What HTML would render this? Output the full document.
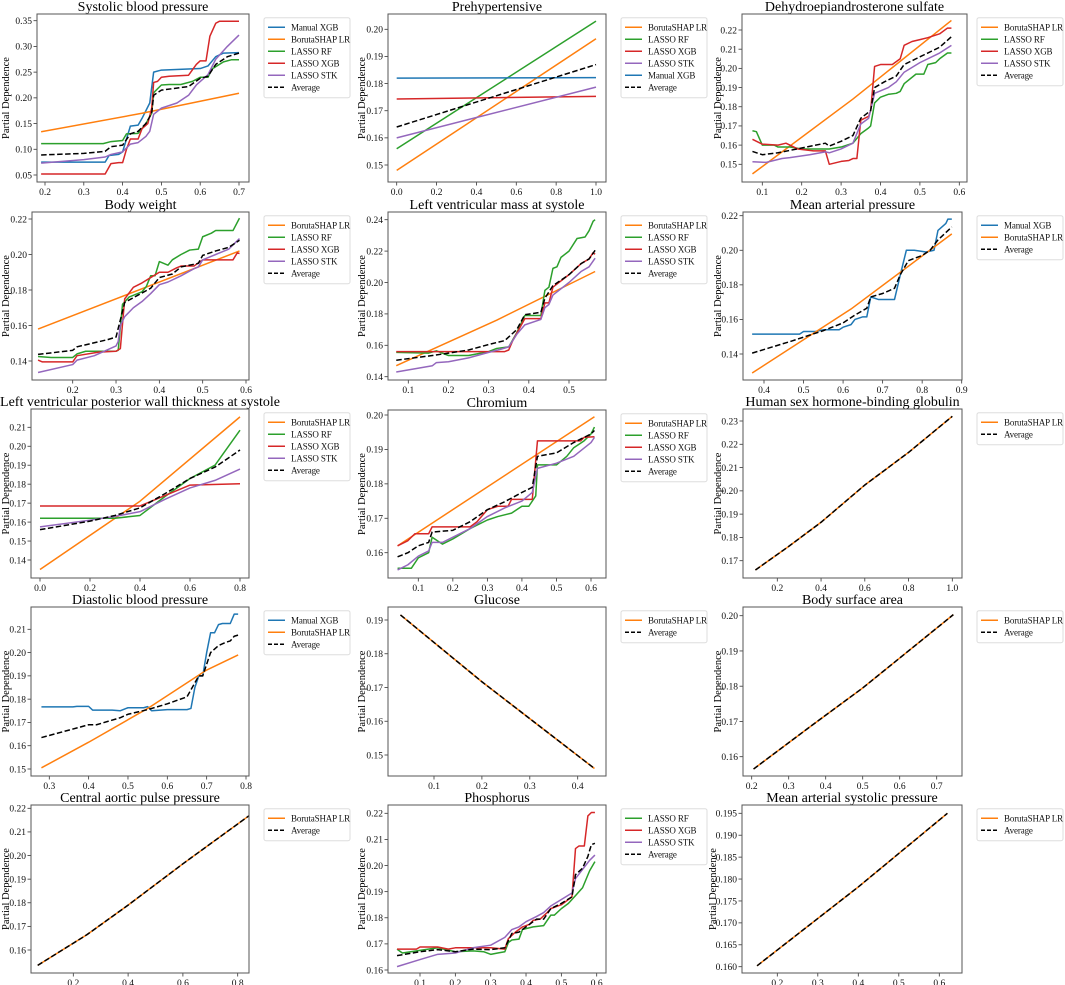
<!DOCTYPE html>
<html><head><meta charset="utf-8">
<style>
html,body{margin:0;padding:0;background:#fff;}
svg{display:block;font-family:"Liberation Serif","Times New Roman",serif;}
</style></head>
<body>
<svg id="chart" width="1065" height="985" viewBox="0 0 1065 985" xmlns="http://www.w3.org/2000/svg"></svg>
<script>
// ---------- data (x,y pairs) ----------
const p1Manual=[[0.19,0.075],[0.355,0.075],[0.365,0.088],[0.39,0.09],[0.40,0.095],[0.41,0.12],[0.42,0.145],[0.44,0.147],[0.45,0.16],[0.47,0.19],[0.48,0.25],[0.5,0.254],[0.6,0.257],[0.62,0.262],[0.64,0.28],[0.66,0.287],[0.70,0.288]];
const p1Boruta=[[0.19,0.134],[0.45,0.17],[0.70,0.209]];
const p1RF=[[0.19,0.111],[0.35,0.111],[0.37,0.115],[0.40,0.117],[0.41,0.13],[0.44,0.131],[0.46,0.15],[0.475,0.17],[0.48,0.21],[0.5,0.225],[0.52,0.226],[0.55,0.226],[0.58,0.232],[0.6,0.24],[0.62,0.24],[0.63,0.256],[0.66,0.27],[0.68,0.274],[0.70,0.274]];
const p1XGB=[[0.19,0.052],[0.355,0.052],[0.37,0.072],[0.39,0.074],[0.40,0.074],[0.41,0.1],[0.42,0.12],[0.44,0.12],[0.45,0.14],[0.465,0.15],[0.475,0.18],[0.48,0.23],[0.49,0.232],[0.50,0.24],[0.52,0.242],[0.57,0.244],[0.59,0.265],[0.60,0.272],[0.615,0.272],[0.625,0.32],[0.64,0.345],[0.65,0.349],[0.70,0.349]];
const p1STK=[[0.19,0.073],[0.3,0.08],[0.355,0.085],[0.37,0.09],[0.40,0.095],[0.42,0.11],[0.44,0.113],[0.46,0.125],[0.47,0.135],[0.48,0.168],[0.50,0.18],[0.54,0.19],[0.57,0.205],[0.59,0.225],[0.62,0.245],[0.64,0.275],[0.67,0.3],[0.70,0.322]];
const p1Avg=[[0.19,0.089],[0.3,0.092],[0.355,0.096],[0.37,0.105],[0.40,0.108],[0.42,0.13],[0.44,0.135],[0.46,0.15],[0.475,0.17],[0.48,0.205],[0.50,0.215],[0.55,0.22],[0.57,0.222],[0.60,0.238],[0.62,0.242],[0.64,0.265],[0.67,0.28],[0.70,0.287]];

const p2Boruta=[[0,0.148],[1,0.1965]];
const p2RF=[[0,0.156],[1,0.203]];
const p2XGB=[[0,0.1743],[1,0.1753]];
const p2STK=[[0,0.160],[0.4,0.1675],[1,0.1787]];
const p2Manual=[[0,0.182],[1,0.1822]];
const p2Avg=[[0,0.164],[1,0.187]];

const p3Boruta=[[0.075,0.145],[0.33,0.184],[0.58,0.225]];
const p3RF=[[0.075,0.1675],[0.085,0.167],[0.10,0.16],[0.13,0.16],[0.14,0.159],[0.17,0.159],[0.2,0.158],[0.27,0.158],[0.3,0.159],[0.33,0.161],[0.35,0.166],[0.37,0.169],[0.375,0.17],[0.385,0.182],[0.4,0.185],[0.42,0.1865],[0.44,0.187],[0.45,0.188],[0.46,0.192],[0.49,0.197],[0.51,0.197],[0.52,0.202],[0.54,0.203],[0.55,0.205],[0.57,0.208],[0.58,0.208]];
const p3XGB=[[0.075,0.163],[0.1,0.1605],[0.14,0.16],[0.16,0.161],[0.19,0.158],[0.23,0.157],[0.26,0.157],[0.27,0.15],[0.3,0.1515],[0.32,0.152],[0.33,0.153],[0.34,0.153],[0.35,0.173],[0.37,0.175],[0.375,0.178],[0.385,0.201],[0.4,0.202],[0.43,0.202],[0.45,0.205],[0.46,0.212],[0.48,0.214],[0.5,0.215],[0.52,0.216],[0.55,0.218],[0.57,0.221],[0.58,0.221]];
const p3STK=[[0.075,0.1513],[0.11,0.151],[0.15,0.153],[0.17,0.1535],[0.22,0.155],[0.26,0.1565],[0.27,0.156],[0.3,0.158],[0.33,0.161],[0.35,0.171],[0.37,0.174],[0.385,0.187],[0.42,0.19],[0.44,0.193],[0.46,0.198],[0.5,0.203],[0.55,0.208],[0.58,0.212]];
const p3Avg=[[0.075,0.1567],[0.1,0.155],[0.14,0.156],[0.2,0.1585],[0.26,0.161],[0.27,0.1595],[0.3,0.162],[0.33,0.165],[0.35,0.174],[0.375,0.178],[0.385,0.19],[0.41,0.193],[0.44,0.196],[0.46,0.202],[0.5,0.206],[0.55,0.211],[0.58,0.2165]];

const p4Boruta=[[0.12,0.158],[0.585,0.202]];
const p4RF=[[0.12,0.1425],[0.15,0.142],[0.2,0.142],[0.21,0.144],[0.23,0.1455],[0.3,0.1455],[0.305,0.146],[0.315,0.172],[0.33,0.176],[0.36,0.179],[0.37,0.182],[0.38,0.188],[0.39,0.188],[0.4,0.196],[0.42,0.194],[0.43,0.197],[0.45,0.2],[0.47,0.2025],[0.49,0.203],[0.5,0.21],[0.52,0.212],[0.53,0.2135],[0.57,0.2135],[0.585,0.2205]];
const p4XGB=[[0.12,0.1405],[0.13,0.1395],[0.2,0.1395],[0.21,0.143],[0.26,0.145],[0.3,0.1455],[0.31,0.147],[0.32,0.175],[0.34,0.1815],[0.36,0.184],[0.38,0.187],[0.4,0.19],[0.42,0.19],[0.44,0.1925],[0.45,0.1935],[0.48,0.1935],[0.5,0.197],[0.57,0.197],[0.58,0.201],[0.585,0.2005]];
const p4STK=[[0.12,0.1335],[0.2,0.138],[0.21,0.1405],[0.25,0.143],[0.3,0.1485],[0.305,0.151],[0.31,0.16],[0.32,0.165],[0.34,0.17],[0.36,0.1735],[0.38,0.178],[0.4,0.183],[0.42,0.1845],[0.45,0.188],[0.48,0.192],[0.49,0.193],[0.5,0.197],[0.53,0.2],[0.56,0.203],[0.585,0.209]];
const p4Avg=[[0.12,0.1437],[0.2,0.146],[0.21,0.148],[0.28,0.152],[0.3,0.1535],[0.315,0.168],[0.32,0.173],[0.35,0.177],[0.38,0.181],[0.4,0.187],[0.43,0.189],[0.45,0.193],[0.49,0.195],[0.5,0.1995],[0.53,0.202],[0.56,0.204],[0.585,0.208]];

const p5Boruta=[[0.07,0.147],[0.32,0.176],[0.565,0.207]];
const p5RF=[[0.07,0.1555],[0.15,0.155],[0.17,0.1565],[0.2,0.1535],[0.25,0.1535],[0.3,0.156],[0.32,0.158],[0.35,0.159],[0.37,0.168],[0.39,0.179],[0.43,0.179],[0.44,0.195],[0.45,0.197],[0.46,0.209],[0.47,0.21],[0.48,0.216],[0.5,0.22],[0.52,0.228],[0.54,0.229],[0.55,0.233],[0.56,0.239],[0.565,0.24]];
const p5XGB=[[0.07,0.156],[0.34,0.156],[0.35,0.157],[0.36,0.163],[0.39,0.177],[0.43,0.177],[0.44,0.187],[0.45,0.187],[0.46,0.197],[0.5,0.205],[0.53,0.212],[0.55,0.215],[0.56,0.219],[0.565,0.218]];
const p5STK=[[0.07,0.143],[0.16,0.147],[0.17,0.149],[0.2,0.1495],[0.25,0.152],[0.3,0.1555],[0.33,0.1575],[0.35,0.159],[0.37,0.167],[0.39,0.173],[0.43,0.1765],[0.44,0.184],[0.45,0.186],[0.46,0.192],[0.5,0.2],[0.53,0.207],[0.55,0.21],[0.565,0.2155]];
const p5Avg=[[0.07,0.1505],[0.16,0.1535],[0.2,0.155],[0.25,0.157],[0.3,0.1605],[0.34,0.163],[0.37,0.17],[0.39,0.1795],[0.43,0.181],[0.44,0.19],[0.46,0.198],[0.5,0.205],[0.53,0.212],[0.55,0.215],[0.565,0.2205]];

const p6Manual=[[0.37,0.1515],[0.49,0.1515],[0.5,0.153],[0.53,0.153],[0.55,0.154],[0.59,0.154],[0.6,0.1555],[0.62,0.157],[0.63,0.16],[0.65,0.1615],[0.66,0.1615],[0.67,0.173],[0.69,0.1715],[0.73,0.1715],[0.745,0.186],[0.76,0.2],[0.78,0.2],[0.81,0.199],[0.83,0.2],[0.84,0.2115],[0.86,0.2155],[0.865,0.218],[0.875,0.218]];
const p6Boruta=[[0.37,0.129],[0.62,0.166],[0.875,0.2095]];
const p6Avg=[[0.37,0.1405],[0.47,0.1475],[0.55,0.1535],[0.6,0.158],[0.63,0.1625],[0.66,0.1665],[0.67,0.173],[0.7,0.175],[0.73,0.178],[0.745,0.186],[0.765,0.194],[0.8,0.197],[0.82,0.2],[0.84,0.206],[0.875,0.2135]];

const p7Boruta=[[0,0.135],[0.4,0.171],[0.8,0.2155]];
const p7RF=[[0,0.162],[0.3,0.162],[0.4,0.1635],[0.5,0.1735],[0.6,0.183],[0.7,0.19],[0.8,0.2085]];
const p7XGB=[[0,0.1685],[0.4,0.1685],[0.5,0.174],[0.6,0.1795],[0.8,0.1802]];
const p7STK=[[0,0.1575],[0.2,0.161],[0.3,0.163],[0.4,0.1655],[0.5,0.172],[0.6,0.178],[0.7,0.182],[0.8,0.188]];
const p7Avg=[[0,0.156],[0.2,0.1605],[0.3,0.1635],[0.4,0.1675],[0.5,0.175],[0.6,0.183],[0.7,0.189],[0.8,0.198]];

const p8Boruta=[[0.04,0.162],[0.61,0.1995]];
const p8RF=[[0.04,0.1555],[0.08,0.1555],[0.1,0.1585],[0.13,0.16],[0.14,0.1645],[0.17,0.1625],[0.2,0.164],[0.25,0.167],[0.3,0.1695],[0.33,0.1705],[0.37,0.1715],[0.4,0.1735],[0.42,0.1735],[0.44,0.1765],[0.445,0.1855],[0.5,0.1855],[0.53,0.188],[0.55,0.1905],[0.58,0.1925],[0.6,0.1945],[0.61,0.1965]];
const p8XGB=[[0.04,0.162],[0.07,0.1635],[0.09,0.1655],[0.13,0.1655],[0.14,0.1675],[0.25,0.1675],[0.27,0.169],[0.3,0.1725],[0.33,0.1735],[0.36,0.1735],[0.37,0.1755],[0.43,0.1755],[0.445,0.1925],[0.57,0.1925],[0.58,0.1935],[0.61,0.1937]];
const p8STK=[[0.04,0.155],[0.07,0.1565],[0.1,0.159],[0.13,0.1605],[0.14,0.163],[0.17,0.163],[0.25,0.167],[0.3,0.1705],[0.35,0.173],[0.4,0.175],[0.43,0.1775],[0.445,0.1845],[0.5,0.186],[0.55,0.188],[0.6,0.192],[0.61,0.1935]];
const p8Avg=[[0.04,0.1588],[0.07,0.16],[0.1,0.162],[0.13,0.163],[0.14,0.166],[0.2,0.1665],[0.25,0.169],[0.3,0.1725],[0.35,0.1748],[0.4,0.1775],[0.43,0.179],[0.445,0.188],[0.5,0.189],[0.55,0.192],[0.6,0.1945],[0.61,0.1955]];

const p9Boruta=[[0.1,0.166],[0.25,0.176],[0.4,0.1865],[0.6,0.2025],[0.8,0.2165],[1.0,0.232]];
const p9Avg=[[0.1,0.166],[0.25,0.176],[0.4,0.1865],[0.6,0.2025],[0.8,0.2165],[1.0,0.232]];

const p10Manual=[[0.28,0.1767],[0.36,0.1767],[0.37,0.1769],[0.4,0.1769],[0.41,0.1753],[0.46,0.1753],[0.48,0.175],[0.5,0.1763],[0.54,0.1763],[0.55,0.1768],[0.56,0.175],[0.6,0.1755],[0.65,0.1755],[0.66,0.176],[0.67,0.185],[0.68,0.19],[0.69,0.19],[0.7,0.2],[0.71,0.2085],[0.72,0.2085],[0.73,0.212],[0.74,0.2125],[0.76,0.2125],[0.77,0.2165],[0.78,0.2165]];
const p10Boruta=[[0.28,0.1505],[0.4,0.1615],[0.55,0.176],[0.7,0.1925],[0.78,0.199]];
const p10Avg=[[0.28,0.1635],[0.4,0.169],[0.42,0.169],[0.48,0.172],[0.5,0.1735],[0.55,0.1755],[0.6,0.178],[0.65,0.181],[0.68,0.19],[0.69,0.19],[0.71,0.2],[0.73,0.203],[0.75,0.2045],[0.76,0.205],[0.77,0.207],[0.78,0.2075]];

const p11Boruta=[[0.03,0.1915],[0.2,0.1717],[0.435,0.146]];
const p11Avg=[[0.03,0.1915],[0.2,0.1717],[0.435,0.146]];

const p12Boruta=[[0.205,0.1565],[0.35,0.1679],[0.5,0.1795],[0.745,0.2003]];
const p12Avg=[[0.205,0.1565],[0.35,0.1679],[0.5,0.1795],[0.745,0.2003]];

const p13Boruta=[[0.07,0.1535],[0.25,0.1665],[0.4,0.179],[0.6,0.1965],[0.855,0.218]];
const p13Avg=[[0.07,0.1535],[0.25,0.1665],[0.4,0.179],[0.6,0.1965],[0.855,0.218]];

const p14RF=[[0.035,0.168],[0.05,0.1665],[0.1,0.1675],[0.15,0.1685],[0.2,0.167],[0.25,0.1673],[0.28,0.167],[0.3,0.166],[0.32,0.1665],[0.34,0.167],[0.35,0.1705],[0.36,0.1715],[0.38,0.1718],[0.39,0.1755],[0.42,0.1765],[0.45,0.177],[0.47,0.181],[0.48,0.181],[0.5,0.1835],[0.52,0.1855],[0.54,0.1885],[0.56,0.1915],[0.58,0.198],[0.595,0.2015]];
const p14XGB=[[0.035,0.168],[0.09,0.168],[0.1,0.1688],[0.15,0.1688],[0.18,0.168],[0.2,0.1685],[0.3,0.1685],[0.34,0.168],[0.35,0.172],[0.37,0.1745],[0.39,0.1765],[0.41,0.1775],[0.42,0.179],[0.44,0.1795],[0.46,0.182],[0.47,0.1835],[0.5,0.185],[0.52,0.187],[0.53,0.188],[0.54,0.2065],[0.55,0.2075],[0.565,0.2075],[0.575,0.219],[0.585,0.2203],[0.595,0.2203]];
const p14STK=[[0.035,0.1613],[0.1,0.164],[0.15,0.166],[0.2,0.1665],[0.25,0.1685],[0.3,0.1695],[0.34,0.1725],[0.36,0.1755],[0.38,0.1765],[0.4,0.1785],[0.43,0.1805],[0.45,0.182],[0.47,0.1845],[0.5,0.187],[0.53,0.1895],[0.54,0.195],[0.56,0.1985],[0.58,0.202],[0.595,0.204]];
const p14Avg=[[0.035,0.1655],[0.1,0.167],[0.15,0.1678],[0.2,0.167],[0.25,0.168],[0.3,0.1678],[0.34,0.1685],[0.36,0.174],[0.38,0.1745],[0.4,0.1765],[0.43,0.1795],[0.45,0.1795],[0.47,0.1835],[0.5,0.1855],[0.53,0.188],[0.54,0.1965],[0.56,0.199],[0.575,0.2035],[0.585,0.208],[0.595,0.2085]];

const p15Boruta=[[0.15,0.1602],[0.4,0.1782],[0.62,0.195]];
const p15Avg=[[0.15,0.1602],[0.4,0.1782],[0.62,0.195]];

// tick label arrays
const p1XTicks=[0.2,0.3,0.4,0.5,0.6,0.7], p1YTicks=[0.05,0.10,0.15,0.20,0.25,0.30,0.35];
const p2XTicks=[0,0.2,0.4,0.6,0.8,1.0], p2YTicks=[0.15,0.16,0.17,0.18,0.19,0.20];
const p3XTicks=[0.1,0.2,0.3,0.4,0.5,0.6], p3YTicks=[0.15,0.16,0.17,0.18,0.19,0.20,0.21,0.22];
const p4XTicks=[0.2,0.3,0.4,0.5,0.6], p4YTicks=[0.14,0.16,0.18,0.20,0.22];
const p5XTicks=[0.1,0.2,0.3,0.4,0.5], p5YTicks=[0.14,0.16,0.18,0.20,0.22,0.24];
const p6XTicks=[0.4,0.5,0.6,0.7,0.8,0.9], p6YTicks=[0.14,0.16,0.18,0.20,0.22];
const p7XTicks=[0,0.2,0.4,0.6,0.8], p7YTicks=[0.14,0.15,0.16,0.17,0.18,0.19,0.20,0.21];
const p8XTicks=[0.1,0.2,0.3,0.4,0.5,0.6], p8YTicks=[0.16,0.17,0.18,0.19,0.20];
const p9XTicks=[0.2,0.4,0.6,0.8,1.0], p9YTicks=[0.17,0.18,0.19,0.20,0.21,0.22,0.23];
const p10XTicks=[0.3,0.4,0.5,0.6,0.7,0.8], p10YTicks=[0.15,0.16,0.17,0.18,0.19,0.20,0.21];
const p11XTicks=[0.1,0.2,0.3,0.4], p11YTicks=[0.15,0.16,0.17,0.18,0.19];
const p12XTicks=[0.2,0.3,0.4,0.5,0.6,0.7], p12YTicks=[0.16,0.17,0.18,0.19,0.20];
const p13XTicks=[0.2,0.4,0.6,0.8], p13YTicks=[0.16,0.17,0.18,0.19,0.20,0.21,0.22];
const p14XTicks=[0.1,0.2,0.3,0.4,0.5,0.6], p14YTicks=[0.16,0.17,0.18,0.19,0.20,0.21,0.22];
const p15XTicks=[0.2,0.3,0.4,0.5,0.6], p15YTicks=[0.160,0.165,0.170,0.175,0.180,0.185,0.190,0.195];

const C={manual:'#1f77b4',boruta:'#ff7f0e',rf:'#2ca02c',xgb:'#d62728',stk:'#9467bd',avg:'#000'};
const NAMES={manual:'Manual XGB',boruta:'BorutaSHAP LR',rf:'LASSO RF',xgb:'LASSO XGB',stk:'LASSO STK',avg:'Average'};

// layout (pixel frames and tick calibration)
const panels=[
 {t:'Systolic blood pressure',f:[37,14,249,182],xc:[0.2,45,0.7,239],yc:[0.35,20.7,0.05,175],xt:p1XTicks,yt:p1YTicks,yd:2,xd:1,leg:264,ylx:6,
  s:[['manual',p1Manual],['boruta',p1Boruta],['rf',p1RF],['xgb',p1XGB],['stk',p1STK],['avg',p1Avg]]},
 {t:'Prehypertensive',f:[388,14,606,182],xc:[0,396.7,1,596],yc:[0.20,29.3,0.15,165],xt:p2XTicks,yt:p2YTicks,yd:2,xd:1,leg:621,ylx:362,
  s:[['boruta',p2Boruta],['rf',p2RF],['xgb',p2XGB],['stk',p2STK],['manual',p2Manual],['avg',p2Avg]]},
 {t:'Dehydroepiandrosterone sulfate',f:[742,14,967,182],xc:[0.1,762.3,0.6,959.3],yc:[0.22,30,0.15,164.3],xt:p3XTicks,yt:p3YTicks,yd:2,xd:1,leg:977,ylx:718,
  s:[['boruta',p3Boruta],['rf',p3RF],['xgb',p3XGB],['stk',p3STK],['avg',p3Avg]]},
 {t:'Body weight',f:[32,212,249,380],xc:[0.2,72.7,0.6,246],yc:[0.22,219,0.14,361],xt:p4XTicks,yt:p4YTicks,yd:2,xd:1,leg:264,ylx:6,
  s:[['boruta',p4Boruta],['rf',p4RF],['xgb',p4XGB],['stk',p4STK],['avg',p4Avg]]},
 {t:'Left ventricular mass at systole',f:[388,212,606,380],xc:[0.1,408.3,0.5,569],yc:[0.24,219.7,0.14,376.7],xt:p5XTicks,yt:p5YTicks,yd:2,xd:1,leg:621,ylx:362,
  s:[['boruta',p5Boruta],['rf',p5RF],['xgb',p5XGB],['stk',p5STK],['avg',p5Avg]]},
 {t:'Mean arterial pressure',f:[743,212,962,380],xc:[0.4,764,0.9,961.7],yc:[0.22,215.7,0.14,354],xt:p6XTicks,yt:p6YTicks,yd:2,xd:1,leg:977,ylx:718,
  s:[['manual',p6Manual],['boruta',p6Boruta],['avg',p6Avg]]},
 {t:'Left ventricular posterior wall thickness at systole',f:[31,409,249,578],xc:[0,40,0.8,240],yc:[0.21,427.3,0.14,560],xt:p7XTicks,yt:p7YTicks,yd:2,xd:1,leg:264,ylx:6,
  s:[['boruta',p7Boruta],['rf',p7RF],['xgb',p7XGB],['stk',p7STK],['avg',p7Avg]]},
 {t:'Chromium',f:[388,410,606,578],xc:[0.1,418.3,0.6,591],yc:[0.20,415,0.16,552.7],xt:p8XTicks,yt:p8YTicks,yd:2,xd:1,leg:621,ylx:362,
  s:[['boruta',p8Boruta],['rf',p8RF],['xgb',p8XGB],['stk',p8STK],['avg',p8Avg]]},
 {t:'Human sex hormone-binding globulin',f:[743,409,962,578],xc:[0.2,777.3,1.0,952.3],yc:[0.23,421,0.17,560.7],xt:p9XTicks,yt:p9YTicks,yd:2,xd:1,leg:977,ylx:718,
  s:[['boruta',p9Boruta],['avg',p9Avg]]},
 {t:'Diastolic blood pressure',f:[31,607,249,776],xc:[0.3,49.3,0.8,246],yc:[0.21,629.3,0.15,769],xt:p10XTicks,yt:p10YTicks,yd:2,xd:1,leg:264,ylx:6,
  s:[['manual',p10Manual],['boruta',p10Boruta],['avg',p10Avg]]},
 {t:'Glucose',f:[388,607,606,776],xc:[0.1,434,0.4,577.7],yc:[0.19,620,0.15,755],xt:p11XTicks,yt:p11YTicks,yd:2,xd:1,leg:621,ylx:362,
  s:[['boruta',p11Boruta],['avg',p11Avg]]},
 {t:'Body surface area',f:[743,607,962,776],xc:[0.2,751.7,0.7,936.7],yc:[0.20,615.7,0.16,756.7],xt:p12XTicks,yt:p12YTicks,yd:2,xd:1,leg:977,ylx:718,
  s:[['boruta',p12Boruta],['avg',p12Avg]]},
 {t:'Central aortic pulse pressure',f:[31,805,249,973],xc:[0.2,73.3,0.8,237.7],yc:[0.22,808.3,0.16,950],xt:p13XTicks,yt:p13YTicks,yd:2,xd:1,leg:264,ylx:6,
  s:[['boruta',p13Boruta],['avg',p13Avg]]},
 {t:'Phosphorus',f:[388,805,606,973],xc:[0.1,420,0.6,596.7],yc:[0.22,813.3,0.16,970],xt:p14XTicks,yt:p14YTicks,yd:2,xd:1,leg:621,ylx:362,
  s:[['rf',p14RF],['xgb',p14XGB],['stk',p14STK],['avg',p14Avg]]},
 {t:'Mean arterial systolic pressure',f:[742,805,962,973],xc:[0.2,777.3,0.6,939.3],yc:[0.195,813.3,0.160,966.7],xt:p15XTicks,yt:p15YTicks,yd:3,xd:1,leg:977,ylx:713,
  s:[['boruta',p15Boruta],['avg',p15Avg]]}
];

const NS='http://www.w3.org/2000/svg';
const svg=document.getElementById('chart');
function mk(tag,attrs,parent,text){const e=document.createElementNS(NS,tag);for(const k in attrs)e.setAttribute(k,attrs[k]);if(text!==undefined)e.textContent=text;(parent||svg).appendChild(e);return e;}
function lin(c){const k=(c[3]-c[1])/(c[2]-c[0]);return v=>c[1]+(v-c[0])*k;}

panels.forEach((p,i)=>{
  const [l,t,r,b]=p.f;
  const X=lin(p.xc),Y=lin(p.yc);
  const g=mk('g',{});
  
  
  const cid='clip'+i;
  const cp=mk('clipPath',{id:cid},g);mk('rect',{x:l,y:t,width:r-l,height:b-t},cp);
  const tt=mk('text',{x:(l+r)/2,y:t-3,'text-anchor':'middle','font-size':'14',fill:'#000'},g,p.t);
  
  
  const cy=(t+b)/2;
  const yl=mk('text',{x:p.ylx,y:cy,'text-anchor':'middle','font-size':'10.5',fill:'#000',transform:`rotate(-90 ${p.ylx} ${cy})`,dy:'3'},g,'Partial Dependence');
  
  
  p.xt.forEach(v=>{const x=X(v);mk('line',{x1:x,x2:x,y1:b,y2:b+3.5,stroke:'#333','stroke-width':0.8},g);
    const tl=mk('text',{x:x,y:b+13,'text-anchor':'middle','font-size':'9.5',fill:'#111'},g,v.toFixed(p.xd));
    
    });
  p.yt.forEach(v=>{const y=Y(v);mk('line',{x1:l-3.5,x2:l,y1:y,y2:y,stroke:'#333','stroke-width':0.8},g);
    const tl=mk('text',{x:l-5,y:y+3.3,'text-anchor':'end','font-size':'9.5',fill:'#111'},g,v.toFixed(p.yd));
    
    });
  const sg=mk('g',{'clip-path':`url(#${cid})`},g);
  p.s.forEach(([k,data])=>{
    const d=data.map((pt,j)=>(j?'L':'M')+X(pt[0]).toFixed(2)+','+Y(pt[1]).toFixed(2)).join('');
    const a={d:d,fill:'none',stroke:C[k],'stroke-width':1.5,'stroke-linejoin':'round'};
    if(k==='avg'){a['stroke-dasharray']='5.5,2.5';}
    const pe=mk('path',a,sg);
    
    
  });
  mk('rect',{x:l,y:t,width:r-l,height:b-t,fill:'none',stroke:'#555','stroke-width':1},g);
  const lx=p.leg,ly=t+3.7,n=p.s.length,w=86;
  const lg=mk('g',{},g);
  
  
  mk('rect',{x:lx,y:ly,width:w,height:n*12+8,fill:'#fff',stroke:'#ddd','stroke-width':1,rx:2},lg);
  p.s.forEach(([k],j)=>{
    const yy=ly+9.5+j*12;
    const la={x1:lx+4,x2:lx+21,y1:yy,y2:yy,stroke:C[k],'stroke-width':1.5};
    if(k==='avg')la['stroke-dasharray']='4,2';
    mk('line',la,lg);
    const te=mk('text',{x:lx+27,y:yy+3.3,'font-size':'9','letter-spacing':'-0.15',fill:'#111'},lg,NAMES[k]);
    
    
  });
});
</script>
</body></html>
